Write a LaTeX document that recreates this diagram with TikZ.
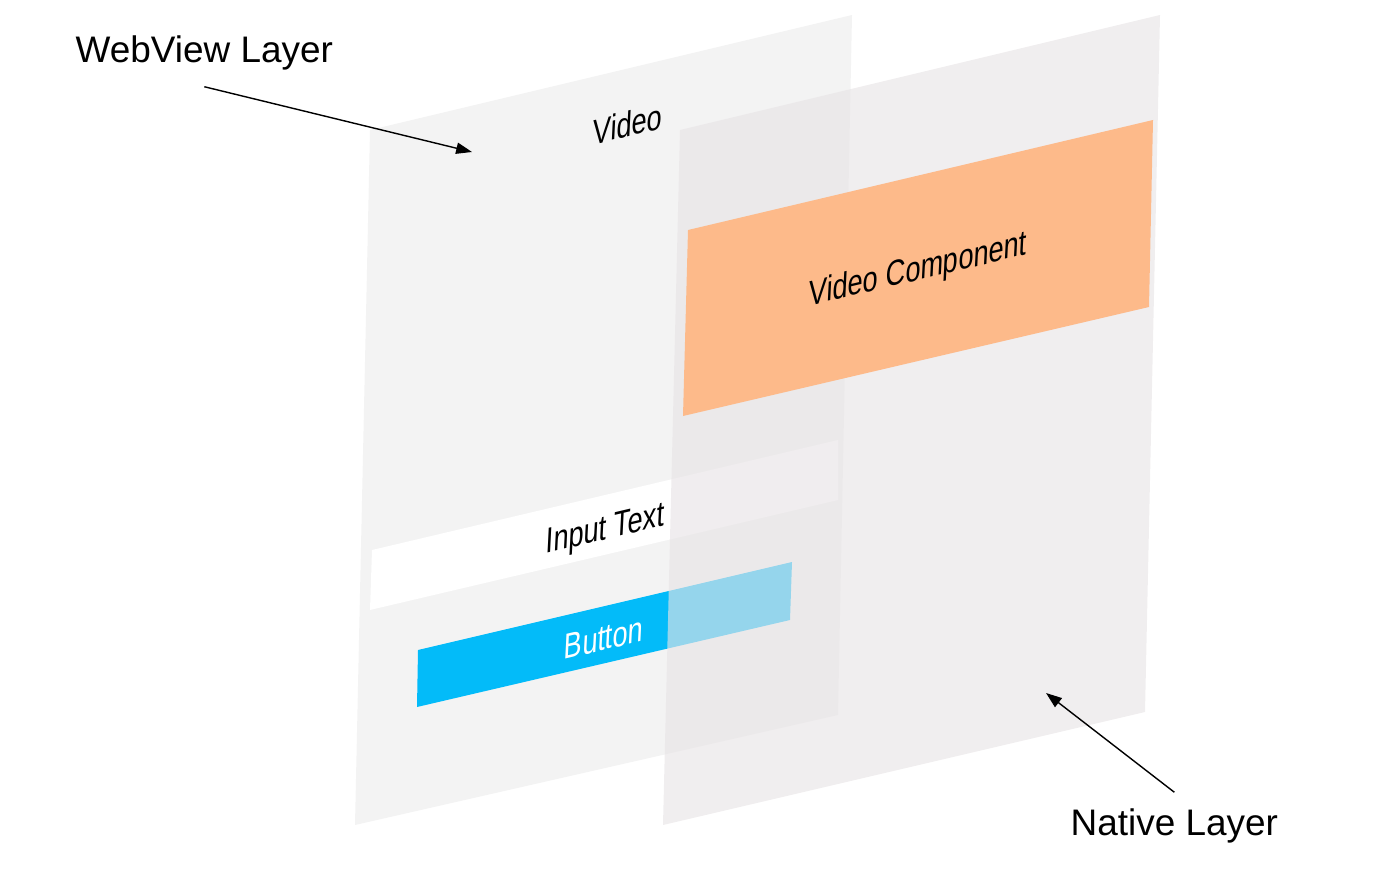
\documentclass[tikz,border=0pt]{standalone}
\usepackage{fontspec}
\setmainfont{Liberation Sans}
\usetikzlibrary{arrows.meta}
\definecolor{webgray}{RGB}{243,243,243}
\definecolor{nativegray}{RGB}{232,228,230}
\definecolor{videoorange}{RGB}{253,186,138}
\definecolor{buttonblue}{RGB}{3,187,249}

\begin{document}
\begin{tikzpicture}[x=0.01cm, y=-0.01cm,
    layerlabel/.style={font=\fontsize{10.5}{12}\selectfont, inner xsep=0pt, inner ysep=4.5pt},
    panetext/.style={font=\fontsize{10.2}{12}\selectfont, inner sep=0pt, cm={0.76,0.18,0.05,1,(0,0)}},
    pointer/.style={-{Triangle[length=4.5pt,width=3.2pt]}, line width=0.4pt}]
    \useasboundingbox (0,0) rectangle (1379,870);
    % webview layer
    \fill[webgray] (370,130) -- (852,15) -- (838,715) -- (355,825) -- cycle;
    \fill[white] (372,550) -- (838,440) -- (838,500) -- (370,610) -- cycle;
    \fill[buttonblue] (418,650) -- (792,562) -- (790,620) -- (417,707) -- cycle;
    \node[panetext] (video) at (628,124) {Video};
    \node[panetext] (input) at (605,531) {Input Text};
    \node[panetext, text=white] (button) at (604,638) {Button};
    % native layer, see-through
    \fill[nativegray, fill opacity=0.64] (680,130) -- (1160,15) -- (1145,712) -- (663,825) -- cycle;
    \fill[videoorange] (688,230) -- (1153,120) -- (1149,307) -- (683,416) -- cycle;
    \node[panetext] (videocomp) at (918,271) {Video Component};
    % labels
    \node[layerlabel, anchor=west] (webview) at (75,53) {WebView Layer};
    \node[layerlabel, anchor=west] (native) at (1070,826) {Native Layer};
    \coordinate (webtip) at (472,152);
    \coordinate (nativetip) at (1046,693);
    \draw[pointer] (webview.south) -- (webtip);
    \draw[pointer] (native.north) -- (nativetip);
\end{tikzpicture}
\end{document}
